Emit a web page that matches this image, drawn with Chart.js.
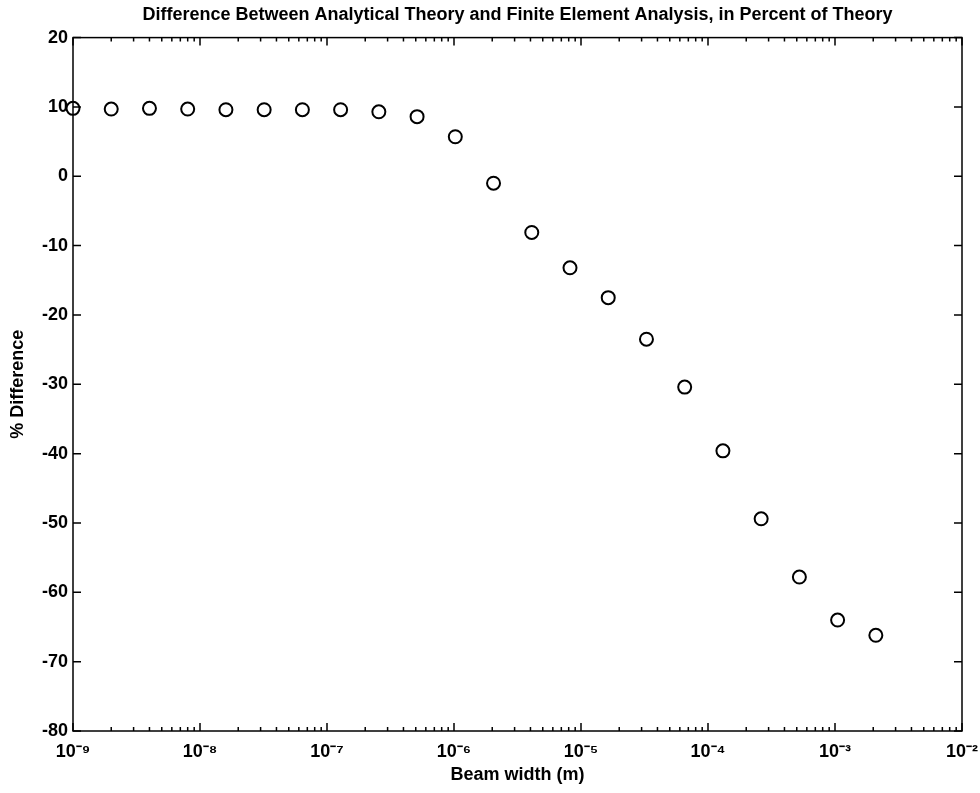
<!DOCTYPE html>
<html>
<head>
<meta charset="utf-8">
<script src="https://cdn.jsdelivr.net/npm/chart.js@4.4.0/dist/chart.umd.min.js"></script>
<style>
  html, body { margin: 0; padding: 0; background: #fff; }
</style>
</head>
<body>
<canvas id="chart" width="980" height="793"></canvas>
<script>
// beam width (m), doubles each step
const beamWidth = [1e-9, 2e-9, 4e-9, 8e-9, 1.6e-8, 3.2e-8, 6.4e-8, 1.28e-7, 2.56e-7, 5.12e-7,
  1.024e-6, 2.048e-6, 4.096e-6, 8.192e-6, 1.6384e-5, 3.2768e-5, 6.5536e-5,
  1.31072e-4, 2.62144e-4, 5.24288e-4, 1.048576e-3, 2.097152e-3];
// % difference
const pctDiff = [9.8, 9.7, 9.8, 9.7, 9.6, 9.6, 9.6, 9.6, 9.3, 8.6,
  5.7, -1.0, -8.1, -13.2, -17.5, -23.5, -30.4,
  -39.6, -49.4, -57.8, -64.0, -66.2];

const xMajorTicks = [1e-9, 1e-8, 1e-7, 1e-6, 1e-5, 1e-4, 1e-3, 1e-2];
const xTickLabels = ['10⁻⁹', '10⁻⁸', '10⁻⁷', '10⁻⁶', '10⁻⁵', '10⁻⁴', '10⁻³', '10⁻²'];
const xMinorSteps = [2, 3, 4, 5, 6, 7, 8, 9];
const yTicks = [-80, -70, -60, -50, -40, -30, -20, -10, 0, 10, 20];

Chart.defaults.font.family = '"Liberation Sans", Arial, sans-serif';
Chart.defaults.font.weight = 'bold';
Chart.defaults.color = '#000';

// box round the plot, ticks pointing inward on all four sides
const frameTicks = {
  id: 'frameTicks',
  afterDatasetsDraw(chart) {
    const { ctx, chartArea: a, scales: { x, y } } = chart;
    ctx.save();
    ctx.strokeStyle = '#000';
    ctx.lineWidth = 1.5;
    ctx.beginPath();
    x.ticks.forEach(t => {
      const px = x.getPixelForValue(t.value);
      const len = xMajorTicks.includes(t.value) ? 8 : 4;
      ctx.moveTo(px, a.bottom); ctx.lineTo(px, a.bottom - len);
      ctx.moveTo(px, a.top); ctx.lineTo(px, a.top + len);
    });
    y.ticks.forEach(t => {
      const py = y.getPixelForValue(t.value);
      ctx.moveTo(a.left, py); ctx.lineTo(a.left + 8, py);
      ctx.moveTo(a.right, py); ctx.lineTo(a.right - 8, py);
    });
    ctx.stroke();
    ctx.strokeRect(a.left, a.top, a.right - a.left, a.bottom - a.top);
    ctx.restore();
  }
};

new Chart(document.getElementById('chart'), {
  type: 'scatter',
  data: {
    datasets: [{
      data: beamWidth.map((b, i) => ({ x: b, y: pctDiff[i] })),
      pointStyle: 'circle',
      pointRadius: 6.5,
      pointHoverRadius: 6.5,
      pointBorderWidth: 2,
      pointBorderColor: '#000',
      pointBackgroundColor: 'rgba(0,0,0,0)',
      showLine: false,
      clip: false
    }]
  },
  options: {
    responsive: false,
    animation: false,
    devicePixelRatio: 1,
    layout: { padding: { left: 0, right: 18, top: 0, bottom: 0 } },
    plugins: {
      legend: { display: false },
      tooltip: { enabled: false },
      title: {
        display: true,
        fullSize: false,
        text: 'Difference Between Analytical Theory and Finite Element Analysis, in Percent of Theory',
        font: { size: 18, weight: 'bold' },
        color: '#000',
        padding: { top: 4, bottom: 12 }
      }
    },
    scales: {
      x: {
        type: 'logarithmic',
        min: 1e-9,
        max: 1e-2,
        grid: { display: false, drawTicks: false },
        border: { display: false },
        afterBuildTicks(scale) {
          const ticks = [];
          xMajorTicks.forEach((m, i) => {
            ticks.push({ value: m, major: true });
            if (i < xMajorTicks.length - 1) {
              xMinorSteps.forEach(s => ticks.push({ value: s * m, major: false }));
            }
          });
          scale.ticks = ticks;
        },
        afterFit(scale) {
          scale.height = 62;
          scale.paddingLeft = 0;
          scale.paddingRight = 0;
        },
        ticks: {
          autoSkip: false,
          maxRotation: 0,
          padding: 10,
          font: { size: 18, weight: 'bold' },
          callback(v) {
            const k = xMajorTicks.indexOf(v);
            return k >= 0 ? xTickLabels[k] : '';
          }
        },
        title: {
          display: true,
          text: 'Beam width (m)',
          font: { size: 18, weight: 'bold' },
          padding: { top: 0, bottom: 7 }
        }
      },
      y: {
        min: -80,
        max: 20,
        grid: { display: false, drawTicks: false },
        border: { display: false },
        afterBuildTicks(scale) {
          scale.ticks = yTicks.map(v => ({ value: v }));
        },
        afterFit(scale) { scale.width = 73; },
        ticks: {
          padding: 5,
          font: { size: 18, weight: 'bold' }
        },
        title: {
          display: true,
          text: '% Difference',
          font: { size: 18, weight: 'bold' },
          padding: { top: 7, bottom: 0 }
        }
      }
    }
  },
  plugins: [frameTicks]
});
</script>
</body>
</html>
